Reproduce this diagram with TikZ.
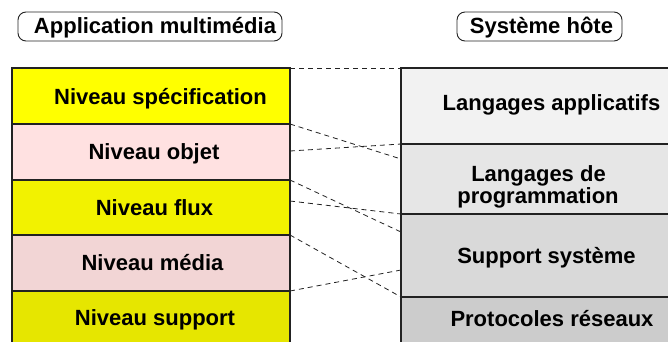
\documentclass[tikz,border=0pt]{standalone}
\usepackage{fontspec}
\setmainfont{Liberation Sans}
\definecolor{cspec}{HTML}{FFFF00}
\definecolor{cobj}{HTML}{FFE1E1}
\definecolor{cflux}{HTML}{F2F200}
\definecolor{cmedia}{HTML}{F2D5D5}
\definecolor{csupp}{HTML}{E6E600}
\definecolor{capl}{HTML}{F2F2F2}
\definecolor{cprog}{HTML}{E6E6E6}
\definecolor{csys}{HTML}{D9D9D9}
\definecolor{cproto}{HTML}{CCCCCC}
\definecolor{edge}{HTML}{222222}
\begin{document}
\begin{tikzpicture}[x=1pt,y=-1pt,
  rowbox/.style={draw=edge, line width=1.3pt, inner sep=0pt, outer sep=0pt, anchor=north west},
  lbox/.style={rowbox, minimum width=278pt},
  rbox/.style={rowbox, minimum width=330pt},
  titlebox/.style={draw=edge, line width=0.9pt, rounded corners=8pt, inner sep=0pt, outer sep=0pt, anchor=north west},
  txt/.style={anchor=base, inner sep=0pt, font=\fontsize{22}{24}\selectfont\bfseries},
  link/.style={draw=edge, line width=0.8pt, dash pattern=on 5pt off 4pt}]
\clip (0,0) rectangle (668,341);
\fill[white] (0,0) rectangle (668,341);
% titles
\node[titlebox, minimum width=264pt, minimum height=29pt] (t1) at (18,12) {};
\node[txt] (t1t) at (155,33) {Application multimédia};
\node[titlebox, minimum width=165pt, minimum height=29pt] (t2) at (457,12) {};
\node[txt] (t2t) at (541.5,33) {Système hôte};
% left column
\node[lbox, fill=cspec,  minimum height=56pt] (spec) at (12,68) {};
\node[lbox, fill=cobj,   minimum height=56pt] (objet) at (12,124) {};
\node[lbox, fill=cflux,  minimum height=55pt] (flux) at (12,180) {};
\node[lbox, fill=cmedia, minimum height=56pt] (media) at (12,235) {};
\node[lbox, fill=csupp,  minimum height=70pt] (supp) at (12,291) {};
% right column
\node[rbox, fill=capl,   minimum height=76pt] (apl) at (401,68) {};
\node[rbox, fill=cprog,  minimum height=70pt] (prog) at (401,144) {};
\node[rbox, fill=csys,   minimum height=83pt] (sys) at (401,214) {};
\node[rbox, fill=cproto, minimum height=70pt] (proto) at (401,297) {};
% texts
\node[txt] (specT) at (160.5,104) {Niveau spécification};
\node[txt] (objT) at (154,159.5) {Niveau objet};
\node[txt] (fluxT) at (154.5,215) {Niveau flux};
\node[txt] (mediaT) at (152.5,270) {Niveau média};
\node[txt] (suppT) at (155,325) {Niveau support};
\node[txt] (aplT) at (551.5,110) {Langages applicatifs};
\node[txt] (progT1) at (538.5,181) {Langages de};
\node[txt] (progT2) at (538,203) {programmation};
\node[txt] (sysT) at (546.5,263) {Support système};
\node[txt] (protoT) at (552,326) {Protocoles réseaux};
% link points
\coordinate (lo) at (290,151);
\coordinate (lf) at (290,201);
\coordinate (rp) at (401,159);
\coordinate (rs) at (401,232);
\coordinate (rs2) at (401,270);
% dashed links
\draw[link] (spec.north east) -- (apl.north west);
\draw[link] (spec.south east) -- (rp);
\draw[link] (lo) -- (prog.north west);
\draw[link] (objet.south east) -- (rs);
\draw[link] (lf) -- (sys.north west);
\draw[link] (flux.south east) -- (proto.north west);
\draw[link] (media.south east) -- (rs2);
\end{tikzpicture}
\end{document}
